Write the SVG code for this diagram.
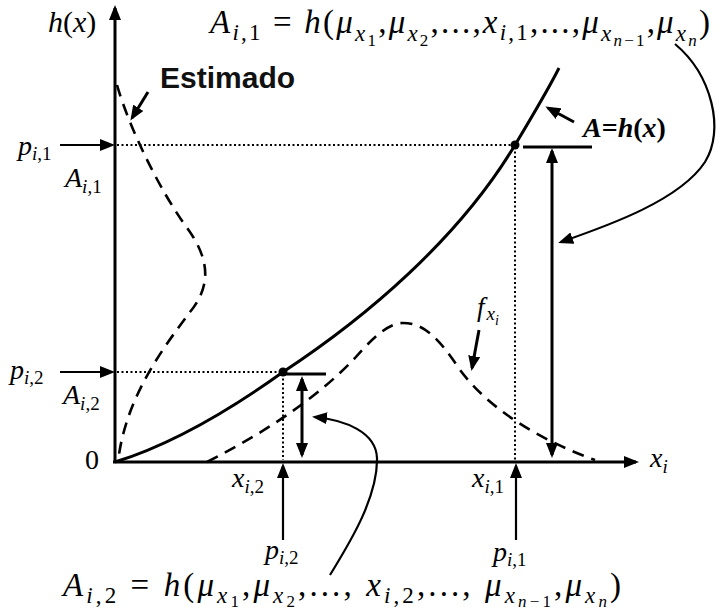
<svg xmlns="http://www.w3.org/2000/svg" width="720" height="616" viewBox="0 0 720 616">
<style>
.m{font-family:"Liberation Serif",serif;font-style:italic;font-size:28px;fill:#000}
.f{font-size:33px}
.u{font-style:normal}
.s1{font-size:19px}
.s2{font-size:14px}
.f .s1{font-size:23px}
.f .s2{font-size:17px}
.ln{stroke:#000;stroke-width:3;fill:none}
.th{stroke:#000;stroke-width:2.2;fill:none}
.dash{stroke:#000;stroke-width:2.6;fill:none;stroke-dasharray:12 8}
.dot{stroke:#000;stroke-width:2;fill:none;stroke-dasharray:2 2.5}
.est{font-family:"Liberation Sans",Arial,sans-serif;font-weight:bold;font-size:30px;fill:#111}
</style>
<defs>
<marker id="ah" viewBox="0 0 15 12" refX="12" refY="6" markerWidth="15" markerHeight="12" markerUnits="userSpaceOnUse" orient="auto-start-reverse">
<path d="M0,0 L15,6 L0,12 z" fill="#000"/>
</marker>
</defs>
<g id="axes">
<line class="ln" x1="115" y1="463" x2="115" y2="8" marker-end="url(#ah)"/>
<line class="ln" x1="113" y1="462" x2="636" y2="462" marker-end="url(#ah)"/>
<text class="m u" x="85" y="469">0</text>
<text class="m" x="48" y="32" style="font-size:30px">h<tspan class="u">(</tspan>x<tspan class="u">)</tspan></text>
<text class="m" x="650" y="467">x<tspan class="s1" dy="6">i</tspan></text>
</g>
<g id="curve-h">
<path class="ln" d="M115,462 C170,445 230,410 283,372 C365,318 458,240 515,145 C530,120 548,90 559,68"/>
<circle cx="283" cy="372" r="4.5" fill="#000"/>
<circle cx="515" cy="145" r="4.5" fill="#000"/>
</g>
<g id="curve-f">
<path class="dash" d="M207,462 C270,430 320,395 355,358 C375,335 390,323 403,323 C425,323 440,340 460,370 C490,410 540,440 595,460"/>
</g>
<g id="curve-est">
<path class="dash" d="M117,85 C130,130 160,190 185,225 C210,258 212,285 190,312 C160,352 125,400 118,462"/>
</g>
<g id="guides">
<line class="dot" x1="117" y1="145" x2="513" y2="145"/>
<line class="dot" x1="515" y1="147" x2="515" y2="460"/>
<line class="dot" x1="117" y1="372" x2="281" y2="372"/>
<line class="dot" x1="283" y1="374" x2="283" y2="460"/>
<line class="ln" x1="523" y1="147" x2="592" y2="147"/>
<line class="ln" x1="286" y1="374" x2="326" y2="374"/>
</g>
<g id="connectors">
<line class="ln" x1="552" y1="151" x2="552" y2="455" marker-start="url(#ah)" marker-end="url(#ah)"/>
<line class="ln" x1="302" y1="379" x2="302" y2="455" marker-start="url(#ah)" marker-end="url(#ah)"/>
<line class="th" x1="60" y1="145" x2="112" y2="145" marker-end="url(#ah)"/>
<line class="th" x1="60" y1="372" x2="112" y2="372" marker-end="url(#ah)"/>
<line class="th" x1="283" y1="540" x2="283" y2="466" marker-end="url(#ah)"/>
<line class="th" x1="516" y1="540" x2="516" y2="466" marker-end="url(#ah)"/>
<line class="ln" x1="148" y1="92" x2="132" y2="118" marker-end="url(#ah)"/>
<line class="ln" x1="574" y1="122" x2="548" y2="108" marker-end="url(#ah)"/>
<line class="ln" x1="479" y1="330" x2="472" y2="368" marker-end="url(#ah)"/>
<path class="th" d="M675,44 C712,75 725,130 705,162 C680,200 610,225 561,242" marker-end="url(#ah)"/>
<path class="th" d="M330,575 C345,550 378,500 377,458 C376,432 345,420 315,417" marker-end="url(#ah)"/>
</g>
<g id="labels">
<text class="est" x="160" y="88">Estimado</text>
<text class="m" x="583" y="137" style="font-weight:bold">A<tspan class="u">=</tspan>h<tspan class="u">(</tspan>x<tspan class="u">)</tspan></text>
<text class="m" x="477" y="316" style="font-size:27px">f<tspan class="s1" dy="4" dx="2">x</tspan><tspan class="s2" dy="5">i</tspan></text>
<text class="m" x="18" y="155">p<tspan class="s1" dy="5">i<tspan class="u">,1</tspan></tspan></text>
<text class="m" x="65" y="187">A<tspan class="s1" dy="6">i<tspan class="u">,1</tspan></tspan></text>
<text class="m" x="10" y="379">p<tspan class="s1" dy="5">i<tspan class="u">,2</tspan></tspan></text>
<text class="m" x="63" y="404">A<tspan class="s1" dy="6">i<tspan class="u">,2</tspan></tspan></text>
<text class="m" x="232" y="487">x<tspan class="s1" dy="6">i<tspan class="u">,2</tspan></tspan></text>
<text class="m" x="472" y="487">x<tspan class="s1" dy="6">i<tspan class="u">,1</tspan></tspan></text>
<text class="m" x="265" y="559">p<tspan class="s1" dy="5">i<tspan class="u">,2</tspan></tspan></text>
<text class="m" x="493" y="561">p<tspan class="s1" dy="5">i<tspan class="u">,1</tspan></tspan></text>
</g>
<g id="formula-top">
<text class="m f" x="210" y="33" textLength="500" lengthAdjust="spacing">A<tspan class="s1" dy="7">i<tspan class="u">,1</tspan></tspan><tspan class="u" dy="-7"> = </tspan>h<tspan class="u">(</tspan>μ<tspan class="s1" dy="8">x</tspan><tspan class="s2 u" dy="5">1</tspan><tspan class="u" dy="-13">,</tspan>μ<tspan class="s1" dy="8">x</tspan><tspan class="s2 u" dy="5">2</tspan><tspan class="u" dy="-13">,...,</tspan>x<tspan class="s1" dy="7">i<tspan class="u">,1</tspan></tspan><tspan class="u" dy="-7">,...,</tspan>μ<tspan class="s1" dy="8">x</tspan><tspan class="s2" dy="5">n<tspan class="u">−1</tspan></tspan><tspan class="u" dy="-13">,</tspan>μ<tspan class="s1" dy="8">x</tspan><tspan class="s2" dy="5">n</tspan><tspan class="u" dy="-13">)</tspan></text>
</g>
<g id="formula-bottom">
<text class="m f" x="63" y="596" textLength="558" lengthAdjust="spacing">A<tspan class="s1" dy="7">i<tspan class="u">,2</tspan></tspan><tspan class="u" dy="-7"> = </tspan>h<tspan class="u">(</tspan>μ<tspan class="s1" dy="7">x</tspan><tspan class="s2 u" dy="4">1</tspan><tspan class="u" dy="-11">,</tspan>μ<tspan class="s1" dy="7">x</tspan><tspan class="s2 u" dy="4">2</tspan><tspan class="u" dy="-11">,..., </tspan>x<tspan class="s1" dy="7">i<tspan class="u">,2</tspan></tspan><tspan class="u" dy="-7">,..., </tspan>μ<tspan class="s1" dy="7">x</tspan><tspan class="s2" dy="4">n<tspan class="u">−1</tspan></tspan><tspan class="u" dy="-11">,</tspan>μ<tspan class="s1" dy="7">x</tspan><tspan class="s2" dy="4">n</tspan><tspan class="u" dy="-11">)</tspan></text>
</g>
</svg>
